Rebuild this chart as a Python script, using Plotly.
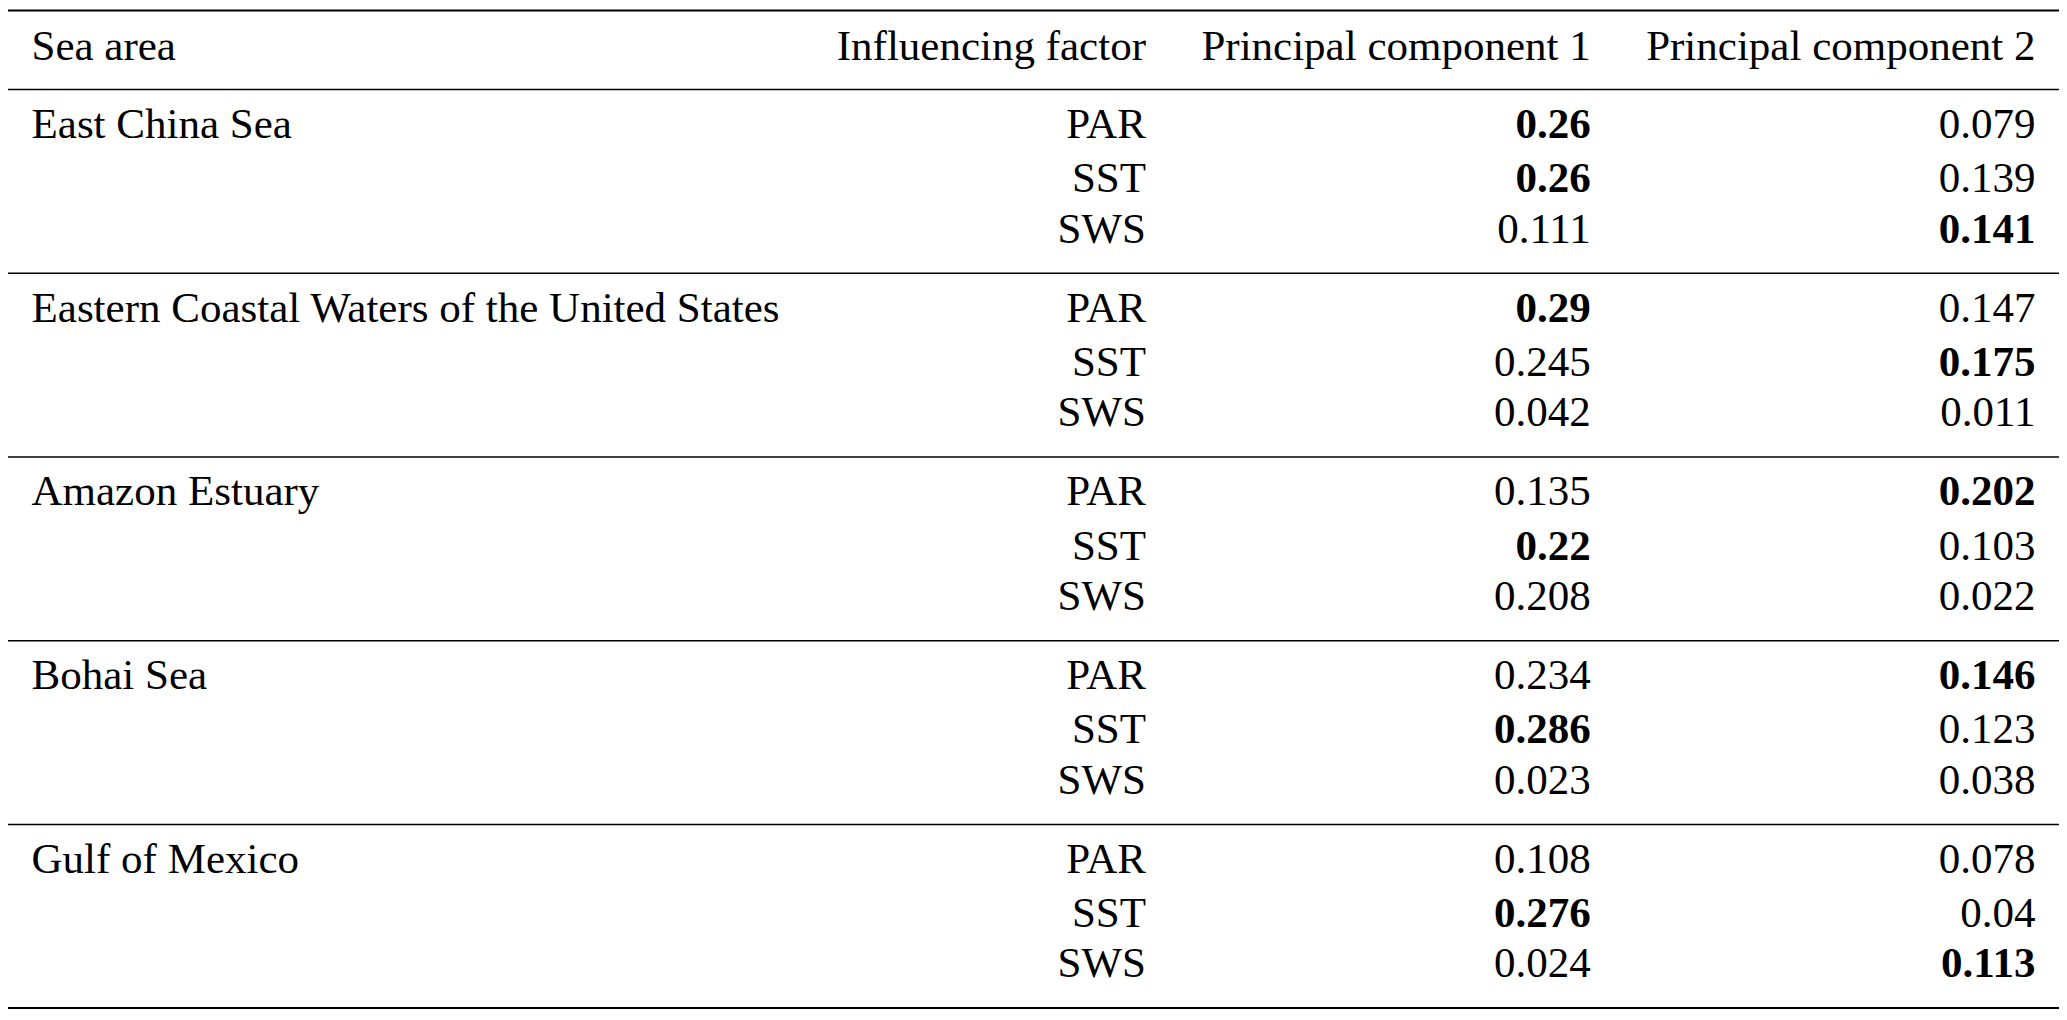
import plotly.graph_objects as go

areas = ["East China Sea", "Eastern Coastal Waters of the United States", "Amazon Estuary", "Bohai Sea", "Gulf of Mexico"]
factors = ["PAR", "SST", "SWS"]
pc1 = [["0.26", "0.26", "0.111"], ["0.29", "0.245", "0.042"], ["0.135", "0.22", "0.208"],
       ["0.234", "0.286", "0.023"], ["0.108", "0.276", "0.024"]]
pc2 = [["0.079", "0.139", "0.141"], ["0.147", "0.175", "0.011"], ["0.202", "0.103", "0.022"],
       ["0.146", "0.123", "0.038"], ["0.078", "0.04", "0.113"]]
bold1 = [[1, 1, 0], [1, 0, 0], [0, 1, 0], [0, 1, 0], [0, 1, 0]]
bold2 = [[0, 0, 1], [0, 1, 0], [1, 0, 0], [1, 0, 0], [0, 0, 1]]
headers = ["Sea area", "Influencing factor", "Principal component 1", "Principal component 2"]

W, H = 1568, 776
colx = [18, 870, 1210, 1550]
head_y = 32
group_top = 63
group_h = 142
row_off = [29, 71, 110]
font = dict(family="Liberation Serif, Times New Roman, serif", size=43, color="black")

def b(s, f):
    return f"<b>{s}</b>" if f else s

fig = go.Figure()
fig.add_trace(go.Scatter(x=[colx[0]], y=[head_y], text=[headers[0]], mode="text",
                         textposition="middle right", textfont=font, hoverinfo="skip"))
fig.add_trace(go.Scatter(x=colx[1:], y=[head_y] * 3, text=headers[1:], mode="text",
                         textposition="middle left", textfont=font, hoverinfo="skip"))
ax, ay, fx, fy, p1t, p2t = [], [], [], [], [], []
for g, area in enumerate(areas):
    base = group_top + g * group_h
    ax.append(colx[0]); ay.append(base + row_off[0])
    for r, fac in enumerate(factors):
        fy.append(base + row_off[r])
        fx.append(fac)
        p1t.append(b(pc1[g][r], bold1[g][r]))
        p2t.append(b(pc2[g][r], bold2[g][r]))
fig.add_trace(go.Scatter(x=ax, y=ay, text=areas, mode="text", textposition="middle right",
                         textfont=font, hoverinfo="skip"))
for cx, txt in [(colx[1], fx), (colx[2], p1t), (colx[3], p2t)]:
    fig.add_trace(go.Scatter(x=[cx] * len(fy), y=fy, text=txt, mode="text",
                             textposition="middle left", textfont=font, hoverinfo="skip"))

rules = [2, group_top] + [group_top + (g + 1) * group_h for g in range(len(areas))]
for i, ry in enumerate(rules):
    fig.add_shape(type="line", x0=0, x1=W, y0=ry, y1=ry, xref="x", yref="y",
                  line=dict(color="black", width=2 if i in (0, len(rules) - 1) else 1.5))

fig.update_xaxes(range=[0, W], visible=False, fixedrange=True)
fig.update_yaxes(range=[H, 0], visible=False, fixedrange=True)
fig.update_layout(showlegend=False, margin=dict(l=0, r=0, t=0, b=0),
                  plot_bgcolor="white", paper_bgcolor="white")
fig.write_html("out.html")
